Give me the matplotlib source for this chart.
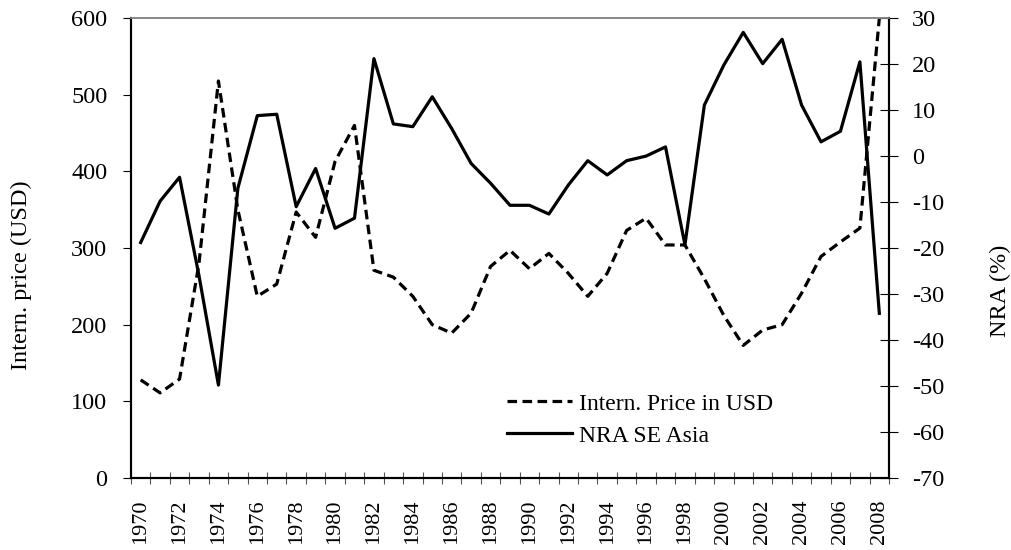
import matplotlib
matplotlib.use("Agg")
import matplotlib.pyplot as plt
from matplotlib.ticker import FixedLocator, NullFormatter

years = list(range(1970, 2009))
price_usd = [128, 111, 129, 280, 518, 350, 237, 253, 347, 314, 413, 460, 271,
             262, 237, 200, 189, 215, 276, 297, 273, 293, 267, 237, 267, 323,
             339, 304, 304, 260, 212, 173, 193, 200, 241, 289, 308, 326, 600]
nra_se_asia = [-18.8, -9.8, -4.6, -26.0, -49.8, -7.0, 8.8, 9.1, -11.0, -2.7,
               -15.7, -13.5, 21.2, 7.0, 6.4, 12.9, 6.0, -1.6, -5.9, -10.7,
               -10.7, -12.6, -6.3, -1.0, -4.1, -1.0, 0.0, 2.0, -19.3, 11.1,
               19.8, 26.9, 20.1, 25.4, 11.1, 3.1, 5.4, 20.5, -34.2]
left_ticks = [0, 100, 200, 300, 400, 500, 600]
right_ticks = [-70, -60, -50, -40, -30, -20, -10, 0, 10, 20, 30]
label_years = list(range(1970, 2009, 2))

plt.rcParams['font.family'] = ['Liberation Serif', 'DejaVu Serif']
fs_y = 17.5
fs_x = 16
fs_leg = 17

fig = plt.figure(figsize=(10.12, 5.5), dpi=100)
ax = fig.add_axes([0.1294, 0.131, 0.8785 - 0.1294, 0.967 - 0.131])
ax2 = ax.twinx()

l1, = ax.plot(years, price_usd, color='black', lw=2.3, linestyle=(0, (3.0, 1.7)),
              label='Intern. Price in USD')
l2, = ax2.plot(years, nra_se_asia, color='black', lw=2.3, label='NRA SE Asia')

ax.set_xlim(1969.5, 2008.5)
ax.set_ylim(0, 600)
ax2.set_ylim(-70, 30)
ax.set_yticks(left_ticks)
ax2.set_yticks(right_ticks)
ax.set_yticklabels([str(v) for v in left_ticks], fontsize=fs_y)
ax2.set_yticklabels([str(v) for v in right_ticks], fontsize=fs_y)

# x ticks: boundaries as tick marks, labels at even years
bounds = [y - 0.5 for y in years] + [years[-1] + 0.5]
ax.xaxis.set_major_locator(FixedLocator(bounds))
ax.xaxis.set_major_formatter(NullFormatter())
ax.xaxis.set_minor_locator(FixedLocator(label_years))
ax.set_xticklabels([str(y) for y in label_years], minor=True, rotation=90, fontsize=fs_x)
ax.tick_params(axis='x', which='major', direction='inout', length=9, width=0.8, color='#555555')
ax.tick_params(axis='x', which='minor', length=0, pad=15.5)
ax.tick_params(axis='y', direction='out', length=6, width=0.8, pad=11)
ax2.tick_params(axis='y', direction='inout', length=12.5, width=0.8, pad=10.5)

for a in (ax, ax2):
    a.spines['top'].set_color('#888888')
    a.spines['top'].set_linewidth(1.2)
    a.spines['left'].set_linewidth(1.5)
    a.spines['right'].set_linewidth(1.5)
    a.spines['bottom'].set_linewidth(1.5)

ax.set_ylabel('Intern. price (USD)', fontsize=fs_y)
ax2.set_ylabel('NRA (%)', fontsize=fs_y, rotation=90)
ax.yaxis.set_label_coords(-0.1306, 0.441)
ax2.yaxis.set_label_coords(1.1332, 0.4065)

ax.legend([l1, l2], ['Intern. Price in USD', 'NRA SE Asia'], loc='lower left',
          bbox_to_anchor=(0.496, 0.068), frameon=False, fontsize=fs_leg,
          borderaxespad=0, borderpad=0,
          handlelength=2.75, handletextpad=0.3, labelspacing=0.45)

fig.savefig('out.png', dpi=100)
